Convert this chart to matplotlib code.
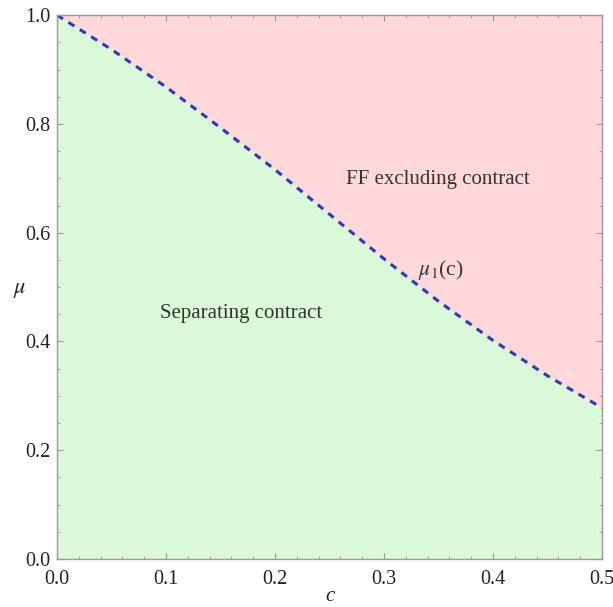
import matplotlib
matplotlib.use("Agg")
import matplotlib.pyplot as plt
from matplotlib.ticker import MultipleLocator

# Boundary mu_1(c) between the two contract regions
c_vals = [0.0, 0.05, 0.10, 0.15, 0.20, 0.25, 0.30, 0.35, 0.40, 0.45, 0.50]
mu_vals = [1.000, 0.937, 0.868, 0.793, 0.716, 0.634, 0.552, 0.474, 0.402, 0.337, 0.278]

x_ticks = [0.0, 0.1, 0.2, 0.3, 0.4, 0.5]
y_ticks = [0.0, 0.2, 0.4, 0.6, 0.8, 1.0]

region_upper = "FF excluding contract"
region_lower = "Separating contract"
curve_label = r"$\mu_1$(c)"

plt.rcParams["font.family"] = ["Liberation Serif", "DejaVu Serif"]
plt.rcParams["mathtext.fontset"] = "stix"

fig = plt.figure(figsize=(6.13, 6.07), dpi=100)
ax = fig.add_axes([0.093, 0.079, 0.889, 0.896])

ax.fill_between(c_vals, 0, mu_vals, color="#d9f9d9", lw=0)
ax.fill_between(c_vals, mu_vals, 1, color="#ffd9d9", lw=0)
ax.plot(c_vals, mu_vals, color="#3236c8", lw=2.2, linestyle=(0, (2.3, 2.1)))

ax.set_xlim(0, 0.5)
ax.set_ylim(0, 1.0)
ax.set_xticks(x_ticks)
ax.set_yticks(y_ticks)
ax.set_xticklabels([f"{v:.1f}" for v in x_ticks])
ax.set_yticklabels([f"{v:.1f}" for v in y_ticks])
ax.xaxis.set_minor_locator(MultipleLocator(0.02))
ax.yaxis.set_minor_locator(MultipleLocator(0.05))
ax.tick_params(which="both", direction="in", top=True, right=True,
               color="#999999", labelsize=14.5, labelcolor="#222222")
ax.tick_params(which="major", length=4, width=0.8)
ax.tick_params(which="minor", length=2.5, width=0.6)
ax.tick_params(axis="x", pad=8)
ax.tick_params(axis="y", pad=5)
for s in ax.spines.values():
    s.set_color("#999999")
    s.set_linewidth(1.0)

ax.set_xlabel("c", style="italic", fontsize=15, color="#222222", va="center")
ax.xaxis.set_label_coords(0.5, -0.068)
ax.set_ylabel(r"$\mu$", fontsize=16, color="#222222", rotation=0, va="center", ha="center")
ax.yaxis.set_label_coords(-0.068, 0.494)

ax.text(0.349, 0.697, region_upper, fontsize=15, color="#333333", ha="center", va="center")
ax.text(0.169, 0.452, region_lower, fontsize=15, color="#333333", ha="center", va="center")
ax.text(0.331, 0.531, curve_label, fontsize=15.5, color="#333333", ha="left", va="center")

fig.savefig("out.png", dpi=100)
